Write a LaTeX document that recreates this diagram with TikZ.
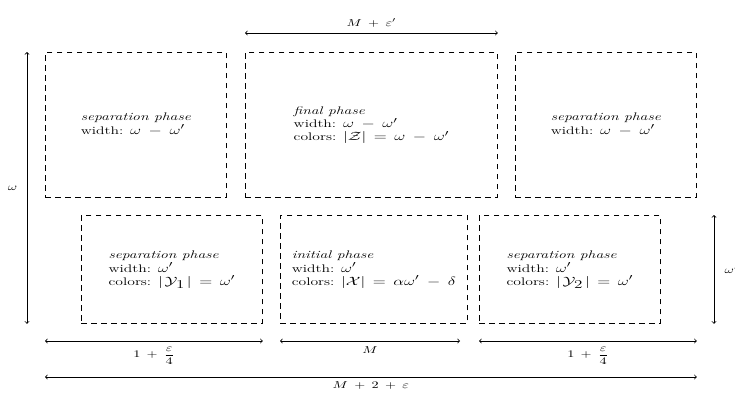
\documentclass[tikz,border=0pt]{standalone}
\usepackage{graphicx}
\usepackage{amsmath}
\DeclareMathSizes{11}{12.5}{9}{7}
\newcommand{\hsx}[1]{\scalebox{1.42}[1]{#1}}
\newcommand{\stt}[1]{\hsx{\begin{tabular}{@{}l@{}}#1\end{tabular}}}
\newcommand{\ysub}[1]{|\mkern2mu\mathcal{Y}_{\textstyle #1}\mkern2mu|}
\medmuskip=8mu plus 2mu minus 4mu
\thickmuskip=8mu plus 5mu
\begin{document}
\begin{tikzpicture}[x=1pt,y=-1pt,
  font=\fontsize{11}{13}\selectfont,
  phase/.style={draw, dash pattern=on 5.5pt off 4.5pt, line width=0.8pt,
    anchor=north west, inner sep=0pt, align=left},
  dim/.style={<->, line width=0.8pt},
  lbl/.style={font=\fontsize{10}{12}\selectfont}]
\useasboundingbox (0,0) rectangle (735,394);
% top row
\node[phase, minimum width=181pt, minimum height=145pt] (A) at (45,52)
  {\stt{\textit{separation phase}\\ width: $\omega-\omega'$}};
\node[phase, minimum width=252pt, minimum height=145pt] (B) at (245,52)
  {\stt{\textit{final phase}\\ width: $\omega-\omega'$\\ colors: $|\mathcal{Z}|=\omega-\omega'$}};
\node[phase, minimum width=181pt, minimum height=145pt] (C) at (515,52)
  {\stt{\textit{separation phase}\\ width: $\omega-\omega'$}};
% bottom row
\node[phase, minimum width=181pt, minimum height=108pt] (D) at (81,215)
  {\stt{\textit{separation phase}\\ width: $\omega'$\\ colors: $\ysub{1}=\omega'$}};
\node[phase, minimum width=187pt, minimum height=108pt] (E) at (280,215)
  {\stt{\textit{initial phase}\\ width: $\omega'$\\ colors: $|\mathcal{X}|=\alpha\omega'-\delta$}};
\node[phase, minimum width=181pt, minimum height=108pt] (F) at (479,215)
  {\stt{\textit{separation phase}\\ width: $\omega'$\\ colors: $\ysub{2}=\omega'$}};
% helper coordinates
\coordinate (rowT) at (0,33);
\coordinate (rowA) at (0,341);
\coordinate (rowB) at (0,377);
\coordinate (colL) at (27,0);
\coordinate (colR) at (714,0);
\coordinate (mEnd) at (460,0);
% dimension arrows
\draw[dim] (B.north west |- rowT) -- node[lbl, above=2pt] {\hsx{$M+\varepsilon'$}} (B.north east |- rowT);
\draw[dim] (colL |- A.north) -- node[lbl, left=6pt] {\hsx{$\omega$}} (colL |- D.south);
\draw[dim] (colR |- F.north) -- node[lbl, right=7pt] {\hsx{$\omega'$}} (colR |- F.south);
\draw[dim] (A.west |- rowA) -- node[lbl, below=2pt] {\hsx{$1+\dfrac{\varepsilon}{4}$}} (D.east |- rowA);
\draw[dim] (E.west |- rowA) -- node[lbl, below=2pt] {\hsx{$M$}} (mEnd |- rowA);
\draw[dim] (F.west |- rowA) -- node[lbl, below=2pt] {\hsx{$1+\dfrac{\varepsilon}{4}$}} (C.east |- rowA);
\draw[dim] (A.west |- rowB) -- node[lbl, below=1pt] {\hsx{$M+2+\varepsilon$}} (C.east |- rowB);
\end{tikzpicture}
\end{document}
